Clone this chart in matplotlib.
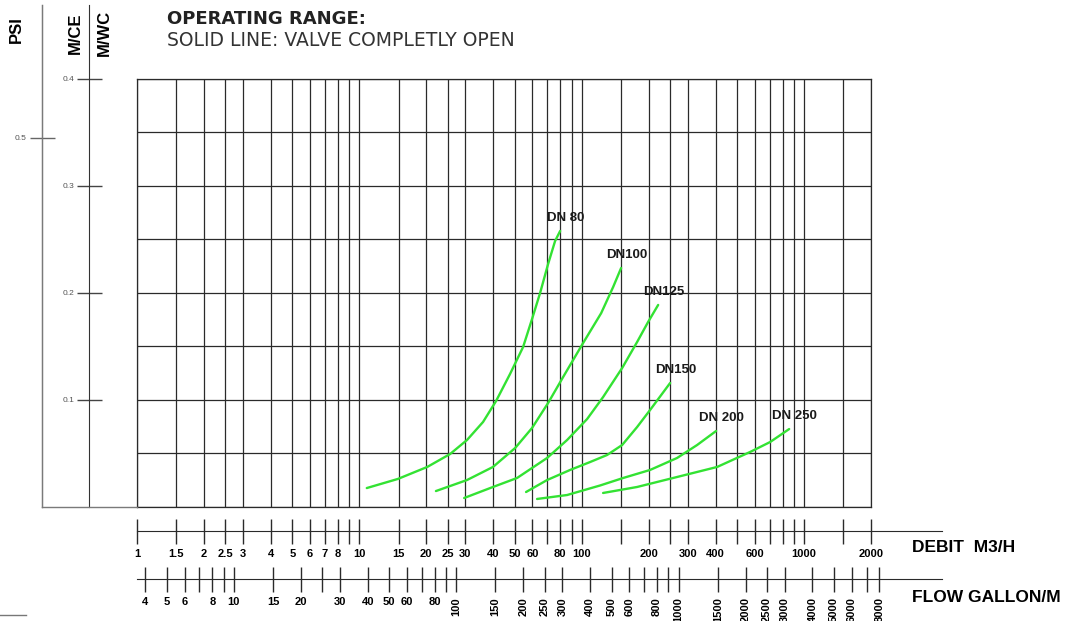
import numpy as np
import matplotlib
matplotlib.use('Agg')
import matplotlib.pyplot as plt
from matplotlib.ticker import NullLocator
from matplotlib.lines import Line2D

plt.rcParams['font.family'] = ['Liberation Sans', 'DejaVu Sans']

# --- datos (caudal m3/h, perdida de carga m) ---
dn80_q = [10.8, 14.9, 20.2, 25.6, 30.5, 36, 41.2, 47.6, 54.5, 59.8, 65, 70.6, 75.9, 80]
dn80_h = [0.0177, 0.0262, 0.0374, 0.0495, 0.0626, 0.0794, 0.099, 0.1242, 0.1494, 0.1756, 0.1999, 0.2269, 0.2484, 0.2578]

dn100_q = [22.1, 30.5, 39.9, 50.2, 59.8, 70.6, 82.5, 101.5, 122.3, 138.5, 150.4]
dn100_h = [0.0149, 0.0252, 0.0374, 0.0551, 0.0738, 0.0971, 0.1214, 0.1532, 0.181, 0.2055, 0.2232]

dn125_q = [29.6, 39.9, 51.2, 69.9, 86, 105.8, 124.8, 152, 177.5, 198.9, 220.7]
dn125_h = [0.0084, 0.0187, 0.0271, 0.0458, 0.0626, 0.0822, 0.1027, 0.1298, 0.1541, 0.1728, 0.1887]

dn150_q = [56.2, 69.9, 88.7, 109.1, 130.1, 152, 177.5, 203, 249.8]
dn150_h = [0.014, 0.0252, 0.0346, 0.042, 0.0486, 0.0579, 0.0747, 0.0906, 0.1158]

dn200_q = [63, 86, 121, 153.6, 203, 268.6, 330.4, 402.3]
dn200_h = [0.0075, 0.0112, 0.0201, 0.0271, 0.0346, 0.0458, 0.0579, 0.071]

dn250_q = [124.8, 177.5, 257.7, 406.5, 572, 704, 857]
dn250_h = [0.0131, 0.0187, 0.0271, 0.0374, 0.0514, 0.0607, 0.0728]

curvas = [
    ('DN 80', dn80_q, dn80_h),
    ('DN100', dn100_q, dn100_h),
    ('DN125', dn125_q, dn125_h),
    ('DN150', dn150_q, dn150_h),
    ('DN 200', dn200_q, dn200_h),
    ('DN 250', dn250_q, dn250_h),
]

# lineas de la cuadricula
grid_q = [1, 1.5, 2, 2.5, 3, 4, 5, 6, 7, 8, 9,
          10, 15, 20, 25, 30, 40, 50, 60, 70, 80, 90,
          100, 150, 200, 250, 300, 400, 500, 600, 700, 800, 900,
          1000, 1500, 2000]
grid_h = [0, 0.05, 0.1, 0.15, 0.2, 0.25, 0.3, 0.35, 0.4]

# escala DEBIT M3/H
debit_ticks = grid_q
debit_labels = ['1', '1.5', '2', '2.5', '3', '4', '5', '6', '7', '8', '',
                '10', '15', '20', '25', '30', '40', '50', '60', '', '80', '',
                '100', '', '200', '', '300', '400', '', '600', '', '', '',
                '1000', '', '2000']

# escala FLOW GALLON/M (galon imperial)
flow_ticks = [4, 5, 6, 7, 8, 9, 10, 15, 20, 25, 30, 40, 50, 60, 70, 80, 90,
              100, 150, 200, 250, 300, 400, 500, 600, 700, 800, 900,
              1000, 1500, 2000, 2500, 3000, 4000, 5000, 6000, 7000, 8000]
flow_labels = ['4', '5', '6', '', '8', '', '10', '15', '20', '', '30', '40', '50', '60', '', '80', '',
               '100', '150', '200', '250', '300', '400', '500', '600', '', '800', '',
               '1000', '1500', '2000', '2500', '3000', '4000', '5000', '6000', '', '8000']

mce_ticks = [0.1, 0.2, 0.3, 0.4]
psi_ticks = [0.5]

GAL_POR_M3H = 3.666
PSI_POR_M = 1.45

# --- geometria en pixeles ---
W, H = 1071, 621
GRID_L, GRID_R, GRID_T, GRID_B = 137, 871, 78.7, 507
PSI_X, MCE_X, ESCALA_TOP = 41.7, 89.3, 5
DEBIT_Y, FLOW_Y, EJE_FIN = 531, 579.3, 942

VERDE = '#33e233'
GRIS = '#2a2a2a'


def rect(l, t, r, b):
    return [l / W, 1 - b / H, (r - l) / W, (b - t) / H]


fig = plt.figure(figsize=(W / 100, H / 100), dpi=100)

# grafico principal
ax = fig.add_axes(rect(GRID_L, GRID_T, GRID_R, GRID_B))
ax.set_xscale('log')
ax.set_xlim(1, 2000)
ax.set_ylim(0, 0.4)
ax.set_xticks(grid_q)
ax.xaxis.set_minor_locator(NullLocator())
ax.set_yticks(grid_h)
ax.tick_params(length=0, labelbottom=False, labelleft=False)
ax.grid(True, color=GRIS, lw=0.9)
for s in ax.spines.values():
    s.set_color(GRIS)
    s.set_linewidth(0.9)

for nombre, q, h in curvas:
    ax.plot(q, h, color=VERDE, lw=1.7, solid_capstyle='round', solid_joinstyle='round')
    ax.annotate(nombre, (q[-1], h[-1]), xytext=(4, 9.5), textcoords='offset points',
                ha='center', va='center', fontsize=9.5, fontweight='bold', color='#1a1a1a')

# escalas de la izquierda (PSI y M/CE)
ax_s = fig.add_axes(rect(PSI_X, ESCALA_TOP, GRID_L, GRID_B))
ax_s.patch.set_visible(False)
ax_s.set_xlim(0, 1)
ax_s.set_ylim(0, 0.4 * (GRID_B - ESCALA_TOP) / (GRID_B - GRID_T))
ax_s.set_xticks([])
ax_s.set_yticks([])
ax_s.spines['top'].set_visible(False)
ax_s.spines['right'].set_visible(False)
for lado in ['left', 'bottom']:
    ax_s.spines[lado].set_color('#7a7a7a')
    ax_s.spines[lado].set_linewidth(1.0)

psi = ax_s.secondary_yaxis(0.0, functions=(lambda m: m * PSI_POR_M, lambda p: p / PSI_POR_M))
psi.set_yticks(psi_ticks, labels=['0.5'])
psi.tick_params(direction='inout', length=18, width=1, color='#666', labelsize=6, pad=2, labelcolor='#555')
psi.spines['left'].set_color('#7a7a7a')

mce = ax_s.secondary_yaxis((MCE_X - PSI_X) / (GRID_L - PSI_X))
mce.set_yticks(mce_ticks, labels=['0.1', '0.2', '0.3', '0.4'])
mce.tick_params(direction='inout', length=18, width=1, color='#444', labelsize=6, pad=2, labelcolor='#555')
mce.spines['left'].set_color('#333')

fig.text(16 / W, 1 - 30 / H, 'PSI', rotation=90, ha='center', va='center', fontsize=12, fontweight='bold')
fig.text(75 / W, 1 - 33 / H, 'M/CE', rotation=90, ha='center', va='center', fontsize=12, fontweight='bold')
fig.text(104 / W, 1 - 33 / H, 'M/WC', rotation=90, ha='center', va='center', fontsize=12, fontweight='bold')

# titulos
fig.text(GRID_L / W + 0.028, 1 - 19 / H, 'OPERATING RANGE:', ha='left', va='center',
         fontsize=13, fontweight='bold', family='DejaVu Sans', color='#222')
fig.text(GRID_L / W + 0.028, 1 - 41 / H, 'SOLID LINE: VALVE COMPLETLY OPEN', ha='left', va='center',
         fontsize=13.5, family='DejaVu Sans', color='#333')

# ejes inferiores de caudal
q_fin = 10 ** (np.log10(2000) * (EJE_FIN - GRID_L) / (GRID_R - GRID_L))


def eje_caudal(y, lim, ticks, labels):
    a = fig.add_axes(rect(GRID_L, y - 1, EJE_FIN, y))
    a.patch.set_visible(False)
    a.set_xscale('log')
    a.set_xlim(*lim)
    a.set_xticks(ticks, labels=labels)
    a.xaxis.set_minor_locator(NullLocator())
    a.set_yticks([])
    for lado in ['top', 'left', 'right']:
        a.spines[lado].set_visible(False)
    a.spines['bottom'].set_color(GRIS)
    a.tick_params(axis='x', direction='inout', length=18, width=1, color=GRIS,
                  labelsize=8, pad=4)
    for t in a.get_xticklabels():
        t.set_fontweight('bold')
    return a


ax_q = eje_caudal(DEBIT_Y, (1, q_fin), debit_ticks, debit_labels)
ax_f = eje_caudal(FLOW_Y, (GAL_POR_M3H, q_fin * GAL_POR_M3H), flow_ticks, flow_labels)
for v, t in zip(flow_ticks, ax_f.get_xticklabels()):
    if v >= 100:
        t.set_rotation(90)

fig.text(911.7 / W, 1 - 547 / H, 'DEBIT  M3/H', ha='left', va='center', fontsize=12.5, fontweight='bold')
fig.text(911.7 / W, 1 - 598 / H, 'FLOW GALLON/M', ha='left', va='center', fontsize=12.5, fontweight='bold')

fig.add_artist(Line2D([0, 26 / W], [1 - 615 / H, 1 - 615 / H], color='#777', lw=1))

fig.savefig('out.png', dpi=100)
